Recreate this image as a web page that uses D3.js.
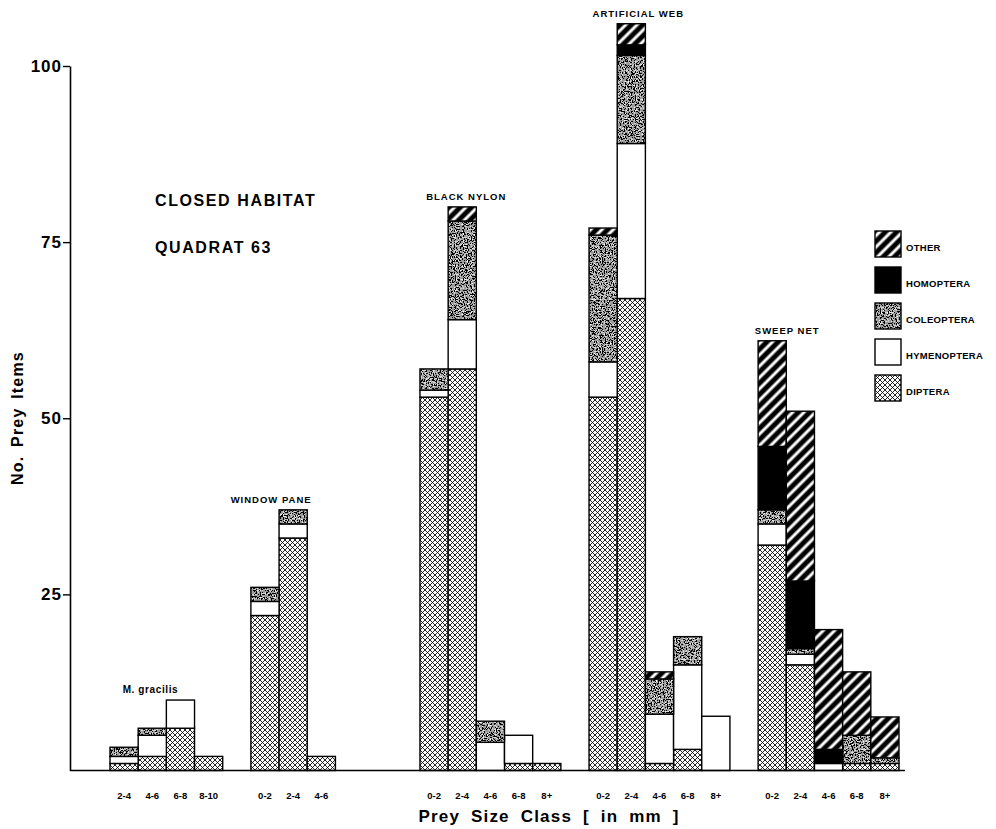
<!DOCTYPE html>
<html>
<head>
<meta charset="utf-8">
<script src="https://cdn.jsdelivr.net/npm/d3@7/dist/d3.min.js"></script>
<style>
  body { margin: 0; background: #fff; }
  text { font-family: "Liberation Sans", Arial, sans-serif; font-weight: bold; fill: #000; }
</style>
</head>
<body>
<svg id="chart" width="996" height="829"></svg>
<script>
// --- data ---
const groupLabels = ["M. gracilis", "WINDOW PANE", "BLACK NYLON", "ARTIFICIAL WEB", "SWEEP NET"];
const sizeClasses = [
  ["2-4", "4-6", "6-8", "8-10"],
  ["0-2", "2-4", "4-6", "6-8", "8+"],
  ["0-2", "2-4", "4-6", "6-8", "8+"],
  ["0-2", "2-4", "4-6", "6-8", "8+"],
  ["0-2", "2-4", "4-6", "6-8", "8+"]
];
const taxa = ["DIPTERA", "HYMENOPTERA", "COLEOPTERA", "HOMOPTERA", "OTHER"];

// one array per taxon, nested by group (null = no bar)
const diptera     = [[1, 2, 6, 2], [22, 33, 2, null, null], [53, 57, 0, 1, 1], [53, 67, 1, 3, 0],   [32, 15, 0, 1, 1]];
const hymenoptera = [[1, 3, 4, 0], [2, 2, 0, null, null],   [1, 7, 4, 4, 0],   [5, 22, 7, 12, 7.7], [3, 1.5, 1, 0, 0]];
const coleoptera  = [[1.3, 1, 0, 0], [2, 2, 0, null, null], [3, 14, 3, 0, 0],  [18, 12.5, 5, 4, 0], [2, 0.8, 0, 4, 0.8]];
const homoptera   = [[0, 0, 0, 0], [0, 0, 0, null, null],   [0, 0, 0, 0, 0],   [0, 1.5, 0, 0, 0],   [9, 9.6, 2, 0, 0]];
const other       = [[0, 0, 0, 0], [0, 0, 0, null, null],   [0, 2, 0, 0, 0],   [1, 3, 1, 0, 0],     [15, 24.1, 17, 9, 5.8]];

const yTicks = [25, 50, 75, 100];

// --- build table ---
const series = { DIPTERA: diptera, HYMENOPTERA: hymenoptera, COLEOPTERA: coleoptera, HOMOPTERA: homoptera, OTHER: other };
const slots = [];
const rows = [];
groupLabels.forEach((g, gi) => {
  if (gi > 0) slots.push("gap" + gi);
  sizeClasses[gi].forEach((c, ci) => {
    const key = gi + "|" + c;
    slots.push(key);
    if (diptera[gi][ci] === null) return;
    const r = { key: key, group: gi, cls: c };
    taxa.forEach(t => r[t] = series[t][gi][ci]);
    r.total = d3.sum(taxa, t => r[t]);
    rows.push(r);
  });
});

const svg = d3.select("#chart");
const x = d3.scaleBand().domain(slots).range([110, 899]).padding(0);
const y = d3.scaleLinear().domain([0, 100]).range([770.5, 66]);

// --- fill patterns ---
const defs = svg.append("defs");

const pd = defs.append("pattern").attr("id", "p-DIPTERA")
  .attr("patternUnits", "userSpaceOnUse").attr("width", 5).attr("height", 5);
pd.append("rect").attr("width", 5).attr("height", 5).attr("fill", "#fff");
pd.append("path").attr("d", "M-1,-1L6,6M6,-1L-1,6")
  .attr("stroke", "#000").attr("stroke-width", 0.85);

const ph = defs.append("pattern").attr("id", "p-HYMENOPTERA")
  .attr("patternUnits", "userSpaceOnUse").attr("width", 4).attr("height", 4);
ph.append("rect").attr("width", 4).attr("height", 4).attr("fill", "#fff");

// stippled grey for Coleoptera
const f = defs.append("filter").attr("id", "speckle")
  .attr("x", 0).attr("y", 0).attr("width", 1).attr("height", 1);
f.append("feTurbulence").attr("type", "fractalNoise").attr("baseFrequency", 0.75)
  .attr("numOctaves", 2).attr("seed", 7);
f.append("feColorMatrix").attr("type", "matrix")
  .attr("values", "0.33 0.33 0.33 0 0 0.33 0.33 0.33 0 0 0.33 0.33 0.33 0 0 0 0 0 0 1");
const lin = f.append("feComponentTransfer");
["feFuncR", "feFuncG", "feFuncB"].forEach(fn =>
  lin.append(fn).attr("type", "linear").attr("slope", 3.2).attr("intercept", -1.24));
const ct = f.append("feComponentTransfer");
["feFuncR", "feFuncG", "feFuncB"].forEach(fn =>
  ct.append(fn).attr("type", "discrete").attr("tableValues", "0 0.33 0.68 1"));

const pc = defs.append("pattern").attr("id", "p-COLEOPTERA")
  .attr("patternUnits", "userSpaceOnUse").attr("width", 90).attr("height", 90);
pc.append("rect").attr("width", 90).attr("height", 90).attr("filter", "url(#speckle)");

const pm = defs.append("pattern").attr("id", "p-HOMOPTERA")
  .attr("patternUnits", "userSpaceOnUse").attr("width", 4).attr("height", 4);
pm.append("rect").attr("width", 4).attr("height", 4).attr("fill", "#000");

const po = defs.append("pattern").attr("id", "p-OTHER")
  .attr("patternUnits", "userSpaceOnUse").attr("width", 8).attr("height", 8)
  .attr("patternTransform", "rotate(45)");
po.append("rect").attr("width", 8).attr("height", 8).attr("fill", "#000");
po.append("rect").attr("x", 2.5).attr("width", 3).attr("height", 8).attr("fill", "#fff");

// --- stacked bars ---
const stacked = d3.stack().keys(taxa)(rows);
svg.append("g").selectAll("g").data(stacked).join("g")
  .attr("fill", d => "url(#p-" + d.key + ")")
  .selectAll("rect").data(d => d.filter(s => s[1] - s[0] > 0)).join("rect")
  .attr("x", s => x(s.data.key))
  .attr("width", x.bandwidth())
  .attr("y", s => y(s[1]))
  .attr("height", s => y(s[0]) - y(s[1]))
  .attr("stroke", "#000").attr("stroke-width", 1.4);

// --- axes ---
svg.append("line").attr("x1", 70).attr("x2", 905).attr("y1", y(0)).attr("y2", y(0))
  .attr("stroke", "#000").attr("stroke-width", 1.6);

const yAxis = svg.append("g").attr("transform", "translate(70,0)")
  .call(d3.axisLeft(y).tickValues(yTicks).tickSize(7).tickSizeOuter(0).tickPadding(1));
yAxis.select(".domain").attr("stroke-width", 1.6);
yAxis.selectAll(".tick line").attr("stroke-width", 1.4);
yAxis.selectAll("text").attr("font-size", 17).style("letter-spacing", "1px")
  .attr("font-family", null);

const xAxis = svg.append("g").attr("transform", `translate(0,${y(0)})`)
  .call(d3.axisBottom(x).tickValues(rows.map(r => r.key))
    .tickFormat(k => k.split("|")[1]).tickSize(0).tickPadding(22));
xAxis.select(".domain").remove();
xAxis.selectAll("text").attr("font-size", 9.5).attr("font-family", null);

// --- texts ---
svg.append("text").attr("transform", "translate(23,418) rotate(-90)")
  .attr("text-anchor", "middle").attr("font-size", 16).style("letter-spacing", "1.2px")
  .style("word-spacing", "3px")
  .text("No. Prey Items");

svg.append("text").attr("x", 549).attr("y", 822).attr("text-anchor", "middle")
  .attr("font-size", 17).style("letter-spacing", "1.2px").style("word-spacing", "5px")
  .text("Prey Size Class [ in mm ]");

svg.append("text").attr("x", 155).attr("y", 206).attr("font-size", 16)
  .style("letter-spacing", "1.6px").text("CLOSED HABITAT");
svg.append("text").attr("x", 155).attr("y", 253).attr("font-size", 16)
  .style("letter-spacing", "1.6px").text("QUADRAT 63");

// group labels over the tallest bar
const labelShift = [-30, -22, 4, 7, 15];
groupLabels.forEach((g, gi) => {
  const gr = rows.filter(r => r.group === gi);
  const top = gr.reduce((a, b) => (b.total > a.total ? b : a));
  svg.append("text")
    .attr("x", x(top.key) + x.bandwidth() / 2 + labelShift[gi])
    .attr("y", y(top.total) - 7)
    .attr("text-anchor", "middle")
    .attr("font-size", gi === 0 ? 10 : 9.5)
    .style("letter-spacing", gi === 0 ? "0.6px" : "1px")
    .text(g);
});

// --- legend ---
const legendOrder = taxa.slice().reverse();
const lg = svg.append("g").selectAll("g").data(legendOrder).join("g")
  .attr("transform", (d, i) => `translate(875,${231 + i * 36})`);
lg.append("rect").attr("width", 26).attr("height", 26)
  .attr("fill", d => "url(#p-" + d + ")").attr("stroke", "#000").attr("stroke-width", 1.4);
lg.append("text").attr("x", 31).attr("y", 20).attr("font-size", 9.5)
  .style("letter-spacing", "0.3px").text(d => d);
</script>
</body>
</html>
